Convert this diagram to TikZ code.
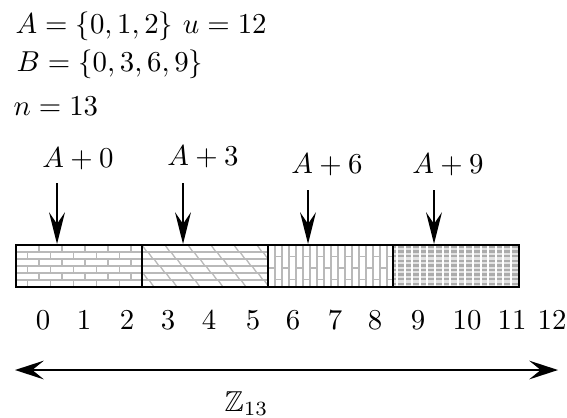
\documentclass[tikz,border=0pt]{standalone}
\usepackage{amssymb}
\usetikzlibrary{arrows.meta}
\begin{document}
\begin{tikzpicture}[x=0.347pt,y=-0.347pt,
  brick/.style={draw=gray!55,line width=0.45pt},
  fine/.style={draw=gray!65,line width=0.8pt},
  blockline/.style={draw=black,line width=1pt},
  downarrow/.style={line width=0.85pt,-{Stealth[length=11pt,width=5.5pt,inset=4pt]}},
  dblarrow/.style={line width=0.75pt,{Stealth[length=10pt,width=6.5pt,inset=4pt]}-{Stealth[length=10pt,width=6.5pt,inset=4pt]}},
  txt/.style={inner sep=0pt,anchor=base west},
  lab/.style={inner sep=0pt,anchor=base},
  num/.style={inner sep=0pt,anchor=base}]
\useasboundingbox (0,0) rectangle (567,417);

% header text
\node[txt] (la) at (15,33) {$A=\{0,1,2\}$ $u=12$};
\node[txt] (lb) at (16,71) {$B=\{0,3,6,9\}$};
\node[txt] (ln) at (13,115) {$n=13$};

% block 1: horizontal bricks
\begin{scope}
\clip (16,245) rectangle (142,287);
\foreach \k in {1,...,5} {\draw[brick] (16,{245+\k*7}) -- (142,{245+\k*7});}
\foreach \k in {0,...,5} {\foreach \j in {-1,...,6} {
  \draw[brick] ({16+\j*23+mod(\k,2)*11.5},{245+\k*7}) -- ++(0,7);}}
\end{scope}

% block 2: slanted bricks
\begin{scope}
\clip (142,245) rectangle (268,287);
\foreach \k in {1,...,5} {\draw[brick] (142,{245+\k*7}) -- (268,{245+\k*7});}
\foreach \k in {0,...,5} {\foreach \j in {-2,...,6} {
  \draw[brick] ({142+\j*23+\k*6},{245+\k*7}) -- ++(5,7);}}
\end{scope}

% block 3: vertical bricks
\begin{scope}
\clip (268,245) rectangle (393,287);
\foreach \j in {1,...,17} {\draw[brick] ({268+\j*7},245) -- ({268+\j*7},287);}
\foreach \j in {0,...,17} {\foreach \i in {-1,...,2} {
  \draw[brick] ({268+\j*7},{245+\i*23+mod(\j,2)*11.5}) -- ++(7,0);}}
\end{scope}

% block 4: fine grey pattern
\begin{scope}
\clip (393,245) rectangle (519,287);
\fill[gray!22] (393,245) rectangle (519,287);
\foreach \k in {0,...,9} {\draw[fine] (393,{247+\k*4.6}) -- (519,{247+\k*4.6});}
\foreach \j in {0,...,16} {\draw[draw=white,line width=0.7pt] ({397+\j*7.6},245) -- ({397+\j*7.6},287);}
\end{scope}

% block outlines
\draw[blockline] (16,245) rectangle (519,287);
\draw[blockline] (142,245) -- (142,287);
\draw[blockline] (268,245) -- (268,287);
\draw[blockline] (393,245) -- (393,287);

% shift labels and arrows
\node[lab] (p0) at (78,167) {$A+0$};
\node[lab] (p3) at (203,165) {$A+3$};
\node[lab] (p6) at (327,173) {$A+6$};
\node[lab] (p9) at (448,173) {$A+9$};
\coordinate (s0) at (57,183); \coordinate (t0) at (57,244);
\coordinate (s3) at (183,183); \coordinate (t3) at (183,244);
\coordinate (s6) at (308,190); \coordinate (t6) at (308,244);
\coordinate (s9) at (434,190); \coordinate (t9) at (434,244);
\draw[downarrow] (s0) -- (t0);
\draw[downarrow] (s3) -- (t3);
\draw[downarrow] (s6) -- (t6);
\draw[downarrow] (s9) -- (t9);

% numbers
\foreach \i/\x in {0/43,1/84,2/127,3/168,4/209,5/253,6/293,7/335,8/375,9/418,10/467,11/512,12/552} {
  \node[num] (n\i) at (\x,329) {$\i$};}

% Z13 double arrow
\coordinate (zl) at (15,370);
\coordinate (zr) at (558,370);
\draw[dblarrow] (zl) -- (zr);
\node[txt] (z) at (224,411) {$\mathbb{Z}_{13}$};
\end{tikzpicture}
\end{document}
